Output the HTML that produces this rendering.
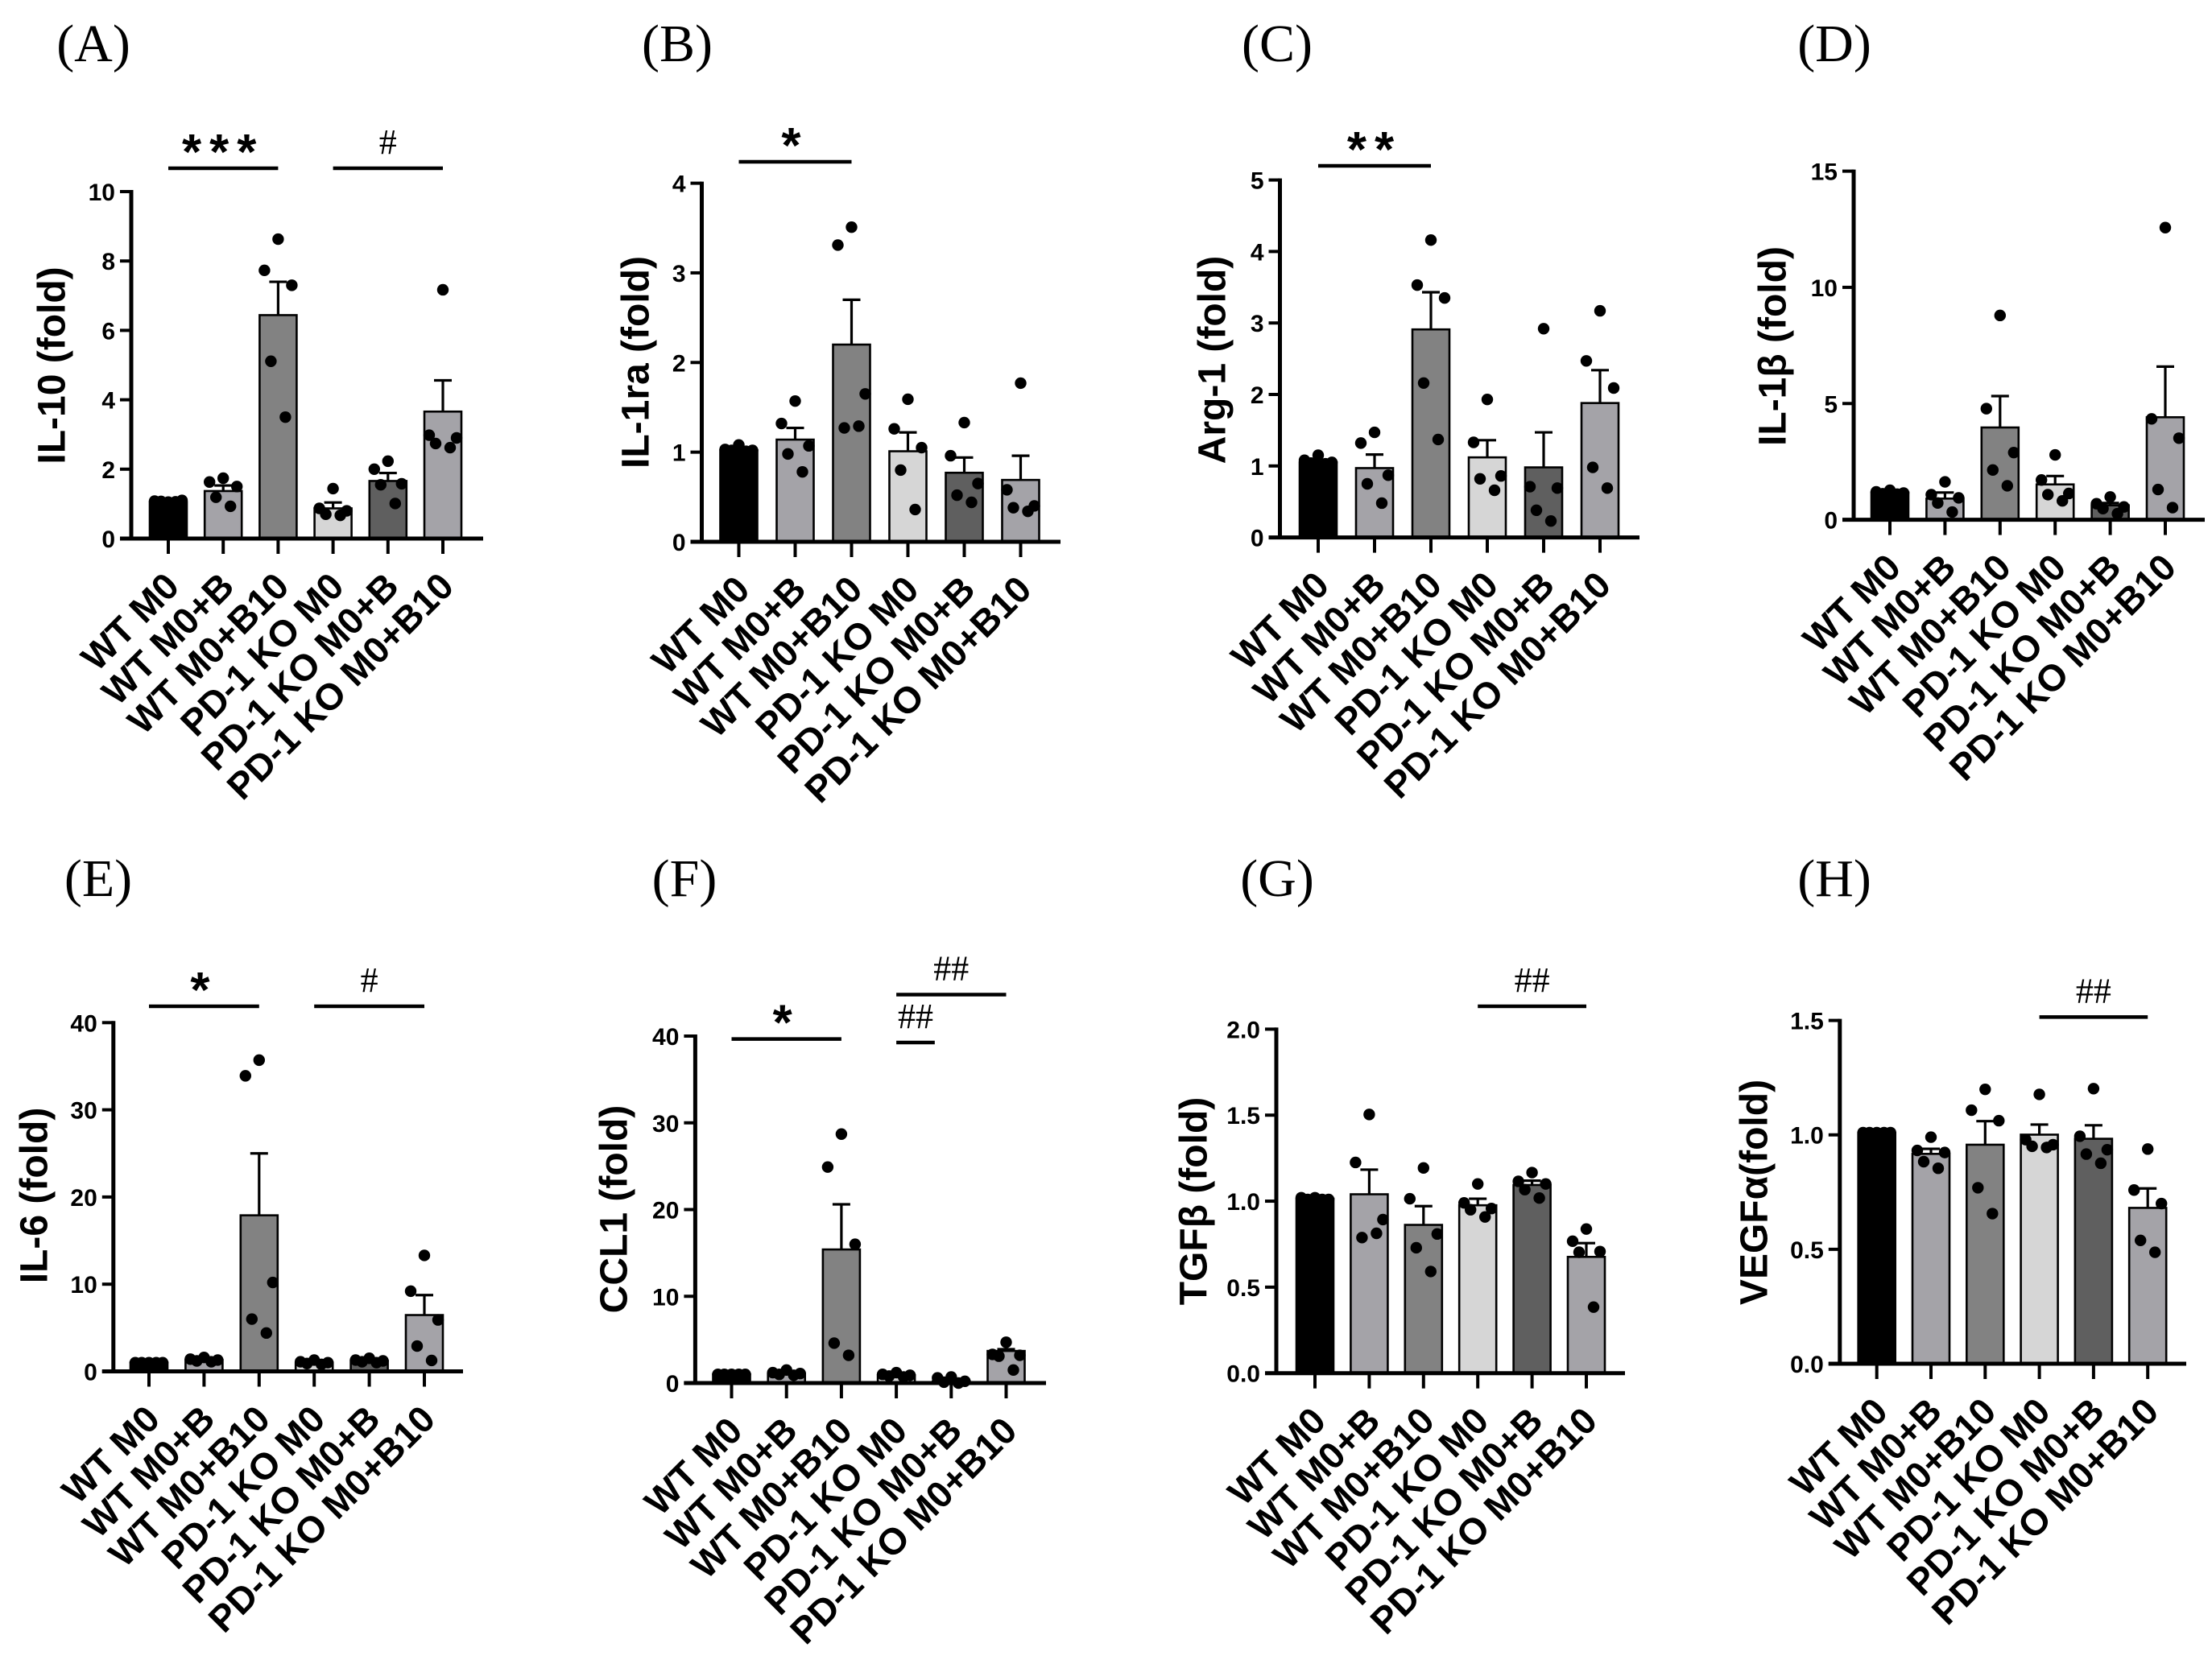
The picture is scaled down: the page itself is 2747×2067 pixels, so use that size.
<!DOCTYPE html>
<html><head><meta charset="utf-8"><title>Cytokine fold changes</title>
<style>html,body{margin:0;padding:0;background:#fff}svg{display:block}</style></head>
<body>
<svg id="fig" xmlns="http://www.w3.org/2000/svg" width="2747" height="2067" viewBox="0 0 2747 2067"><rect width="2747" height="2067" fill="#fff"/></svg>
<script>
const categories = ["WT M0","WT M0+B","WT M0+B10","PD-1 KO M0","PD-1 KO M0+B","PD-1 KO M0+B10"];
const il10Means = [1.05,1.37,6.44,0.87,1.66,3.66];
const il10Errs = [1.07,1.53,7.40,1.04,1.89,4.56];
const il10Points = [[1.05,1.08,1.1,1.07,1.06],[1.74,1.63,1.5,1.19,0.93],[8.63,7.73,7.3,5.11,3.5],[1.44,0.87,0.8,0.7,0.67],[2.23,2.0,1.58,1.55,1.01],[7.17,2.98,2.9,2.74,2.62]];
const il1raMeans = [1.02,1.14,2.2,1.01,0.77,0.69];
const il1raErrs = [1.03,1.27,2.7,1.22,0.94,0.96];
const il1raPoints = [[1.08,1.03,1.02,1.02,1.01],[1.57,1.32,1.07,0.98,0.78],[3.51,3.31,1.65,1.27,1.29],[1.59,1.26,1.05,0.8,0.36],[1.33,0.96,0.65,0.52,0.44],[1.77,0.58,0.4,0.38,0.34]];
const arg1Means = [1.05,0.97,2.91,1.12,0.98,1.88];
const arg1Errs = [1.06,1.16,3.43,1.36,1.47,2.34];
const arg1Points = [[1.15,1.08,1.05,1.04,1.03],[1.47,1.32,0.87,0.75,0.48],[4.16,3.53,3.35,2.16,1.37],[1.93,1.33,0.86,0.82,0.66],[2.92,0.71,0.69,0.38,0.23],[3.17,2.47,2.09,0.98,0.69]];
const il1bMeans = [1.17,0.91,3.97,1.52,0.62,4.41];
const il1bErrs = [1.2,1.17,5.32,1.88,0.72,6.59];
const il1bPoints = [[1.27,1.2,1.15,1.12,1.1],[1.63,1.08,0.94,0.72,0.33],[8.79,4.78,2.89,2.14,1.46],[2.79,1.71,1.13,1.08,0.81],[0.98,0.69,0.55,0.48,0.26],[12.57,4.34,3.51,1.3,0.52]];
const il6Means = [1.0,1.3,17.9,1.0,1.2,6.46];
const il6Errs = [1.0,1.4,25.0,1.1,1.3,8.75];
const il6Points = [[1.0,1.0,1.0,1.0,1.0],[1.6,1.4,1.3,1.2,1.1],[35.7,33.9,10.2,6.0,4.4],[1.3,1.1,1.0,0.9,0.8],[1.5,1.3,1.2,1.1,1.0],[13.3,9.2,5.9,2.9,1.25]];
const ccl1Means = [1.0,1.1,15.4,0.9,0.2,3.7];
const ccl1Errs = [1.0,1.2,20.6,1.0,0.35,3.9];
const ccl1Points = [[1.0,1.0,1.0,1.0,1.0],[1.5,1.2,1.1,1.0,0.9],[28.7,24.9,16.0,4.6,3.2],[1.2,1.0,0.9,0.8,0.7],[0.7,0.6,0.2,0.1,0.0],[4.7,3.3,3.2,3.1,1.5]];
const tgfbMeans = [1.014,1.04,0.862,0.976,1.094,0.676];
const tgfbErrs = [1.014,1.183,0.971,1.014,1.119,0.756];
const tgfbPoints = [[1.02,1.02,1.01,1.01,1.01],[1.504,1.225,0.893,0.788,0.813],[1.193,1.014,0.809,0.729,0.591],[1.1,0.99,0.957,0.95,0.908],[1.166,1.115,1.1,1.067,1.018],[0.838,0.767,0.707,0.703,0.384]];
const vegfMeans = [1.008,0.917,0.957,1.001,0.983,0.681];
const vegfErrs = [1.008,0.939,1.06,1.045,1.042,0.766];
const vegfPoints = [[1.01,1.01,1.01,1.01,1.01],[0.99,0.932,0.923,0.883,0.854],[1.199,1.108,1.062,0.769,0.656],[1.177,0.979,0.957,0.95,0.945],[1.202,0.994,0.935,0.916,0.876],[0.938,0.759,0.70,0.539,0.487]];
const il10Ticks = [0,2,4,6,8,10];
const il1raTicks = [0,1,2,3,4];
const arg1Ticks = [0,1,2,3,4,5];
const il1bTicks = [0,5,10,15];
const il6Ticks = [0,10,20,30,40];
const ccl1Ticks = [0,10,20,30,40];
const tgfbTicks = ["0.0","0.5","1.0","1.5","2.0"];
const vegfTicks = ["0.0","0.5","1.0","1.5"];

const NS = "http://www.w3.org/2000/svg";
const svg = document.getElementById('fig');
const fills = ["#000000","#a4a3a8","#828282","#d6d6d6","#5f5f5f","#a4a3a8"];
const jit = [0,-17,17,-9,9];
function mk(tag, attrs, parent){const e=document.createElementNS(NS,tag);for(const k in attrs)e.setAttribute(k,attrs[k]);(parent||svg).appendChild(e);return e;}

const panels = [
 {key:"il10",letter:"(A)",lx:116,ly:76,title:"IL-10 (fold)",tx:65,ty:454,ax:163,y0:669,yt:238,x1:209,dx:68.2,xe:600,means:il10Means,errs:il10Errs,pts:il10Points,ticks:il10Ticks,
  sig:[{a:0,b:2,y:209,t:"***",st:1},{a:3,b:5,y:209,t:"#",st:0}]},
 {key:"il1ra",letter:"(B)",lx:841,ly:76,title:"IL-1ra (fold)",tx:790,ty:450,ax:871.5,y0:673,yt:227.6,x1:917.5,dx:70,xe:1317,means:il1raMeans,errs:il1raErrs,pts:il1raPoints,ticks:il1raTicks,
  sig:[{a:0,b:2,y:201,t:"*",st:1}]},
 {key:"arg1",letter:"(C)",lx:1586,ly:76,title:"Arg-1 (fold)",tx:1506,ty:447,ax:1589.5,y0:667.6,yt:223.6,x1:1637,dx:70,xe:2036,means:arg1Means,errs:arg1Errs,pts:arg1Points,ticks:arg1Ticks,
  sig:[{a:0,b:2,y:206,t:"**",st:1}]},
 {key:"il1b",letter:"(D)",lx:2278,ly:76,title:"IL-1β (fold)",tx:2202,ty:430,ax:2302,y0:645.6,yt:212.6,x1:2347,dx:68.4,xe:2738,means:il1bMeans,errs:il1bErrs,pts:il1bPoints,ticks:il1bTicks,sig:[]},
 {key:"il6",letter:"(E)",lx:122,ly:1113,title:"IL-6 (fold)",tx:43,ty:1485,ax:140.8,y0:1703.5,yt:1270.3,x1:185,dx:68.4,xe:575,means:il6Means,errs:il6Errs,pts:il6Points,ticks:il6Ticks,
  sig:[{a:0,b:2,y:1250,t:"*",st:1},{a:3,b:5,y:1250,t:"#",st:0}]},
 {key:"ccl1",letter:"(F)",lx:850,ly:1113,title:"CCL1 (fold)",tx:763,ty:1502,ax:863.4,y0:1718,yt:1287,x1:908.5,dx:68.2,xe:1299,means:ccl1Means,errs:ccl1Errs,pts:ccl1Points,ticks:ccl1Ticks,
  sig:[{a:0,b:2,y:1290.6,t:"*",st:1},{a:3,b:3.7,y:1295,t:"##",st:0},{a:3,b:5,y:1235.5,t:"##",st:0}]},
 {key:"tgfb",letter:"(G)",lx:1586,ly:1113,title:"TGFβ (fold)",tx:1483,ty:1492,ax:1585,y0:1705.7,yt:1278.4,x1:1633,dx:67.4,xe:2018,means:tgfbMeans,errs:tgfbErrs,pts:tgfbPoints,ticks:tgfbTicks,
  sig:[{a:3,b:5,y:1250,t:"##",st:0}]},
 {key:"vegf",letter:"(H)",lx:2278,ly:1113,title:"VEGFα(fold)",tx:2179,ty:1481,ax:2284.8,y0:1694,yt:1267.6,x1:2330.7,dx:67.3,xe:2715,means:vegfMeans,errs:vegfErrs,pts:vegfPoints,ticks:vegfTicks,
  sig:[{a:3,b:5,y:1263.4,t:"##",st:0}]}
];

panels.forEach(p=>{
  const g = mk('g',{});
  
  
  const tmax = parseFloat(p.ticks[p.ticks.length-1]);
  const yS = v => p.y0 - (v/tmax)*(p.y0-p.yt);
  const xS = i => p.x1 + i*p.dx;

  const lab = mk('text',{x:p.lx,y:p.ly,'text-anchor':'middle','font-family':'"Liberation Serif",serif','font-size':66},g);
  lab.textContent = p.letter;
  
  

  const tt = mk('text',{x:p.tx,y:p.ty,'text-anchor':'middle','dominant-baseline':'central',transform:`rotate(-90 ${p.tx} ${p.ty})`,'font-family':'"Liberation Sans",sans-serif','font-weight':'bold','font-size':48},g);
  tt.textContent = p.title;
  
  

  p.means.forEach((m,i)=>{
    const r = mk('rect',{x:xS(i)-23,y:yS(m),width:46,height:p.y0-yS(m),fill:fills[i],stroke:'#000','stroke-width':2.6},g);
    
    
  });
  p.errs.forEach((e,i)=>{
    const eg = mk('path',{d:`M${xS(i)} ${yS(p.means[i])}V${yS(e)}M${xS(i)-11} ${yS(e)}H${xS(i)+11}`,stroke:'#000','stroke-width':3.2,fill:'none'},g);
    
    
  });
  p.pts.forEach((arr,i)=>{
    arr.forEach((v,k)=>{
      const c = mk('circle',{cx:xS(i)+jit[k],cy:yS(v),r:7.2,fill:'#000'},g);
      
      
    });
  });
  const ya = mk('line',{x1:p.ax,y1:p.yt-2,x2:p.ax,y2:p.y0+2,stroke:'#000','stroke-width':5},g);
  
  
  const xa = mk('line',{x1:p.ax-14,y1:p.y0,x2:p.xe,y2:p.y0,stroke:'#000','stroke-width':5},g);
  
  
  p.ticks.forEach(t=>{
    const v=parseFloat(t), y=yS(v);
    mk('line',{x1:p.ax-14,y1:y,x2:p.ax,y2:y,stroke:'#000','stroke-width':4},g);
    const tl = mk('text',{x:p.ax-20,y:y+11,'text-anchor':'end','font-family':'"Liberation Sans",sans-serif','font-weight':'bold','font-size':30},g);
    tl.textContent = String(t);
    
    
  });
  categories.forEach((c,i)=>{
    mk('line',{x1:xS(i),y1:p.y0,x2:xS(i),y2:p.y0+19,stroke:'#000','stroke-width':4},g);
    const px = xS(i)+16, py = p.y0+62;
    const xl = mk('text',{x:px,y:py,'text-anchor':'end',transform:`rotate(-45 ${px} ${py})`,'font-family':'"Liberation Sans",sans-serif','font-weight':'bold','font-size':46},g);
    xl.textContent = c;
    
    
  });
  p.sig.forEach(s=>{
    const xa_ = xS(s.a), xb_ = xS(s.b);
    const sl = mk('line',{x1:xa_,y1:s.y,x2:xb_,y2:s.y,stroke:'#000','stroke-width':4.5},g);
    
    
    const st = s.st ? mk('text',{x:(xa_+xb_)/2,y:s.y+1,'text-anchor':'middle','font-family':'"Liberation Sans",sans-serif','font-weight':'bold','font-size':62,'letter-spacing':10},g)
                    : mk('text',{x:(xa_+xb_)/2,y:s.y-18,'text-anchor':'middle','font-family':'"Liberation Serif",serif','font-size':44},g);
    st.textContent = s.t;
    
    
  });
});
</script>
</body></html>
